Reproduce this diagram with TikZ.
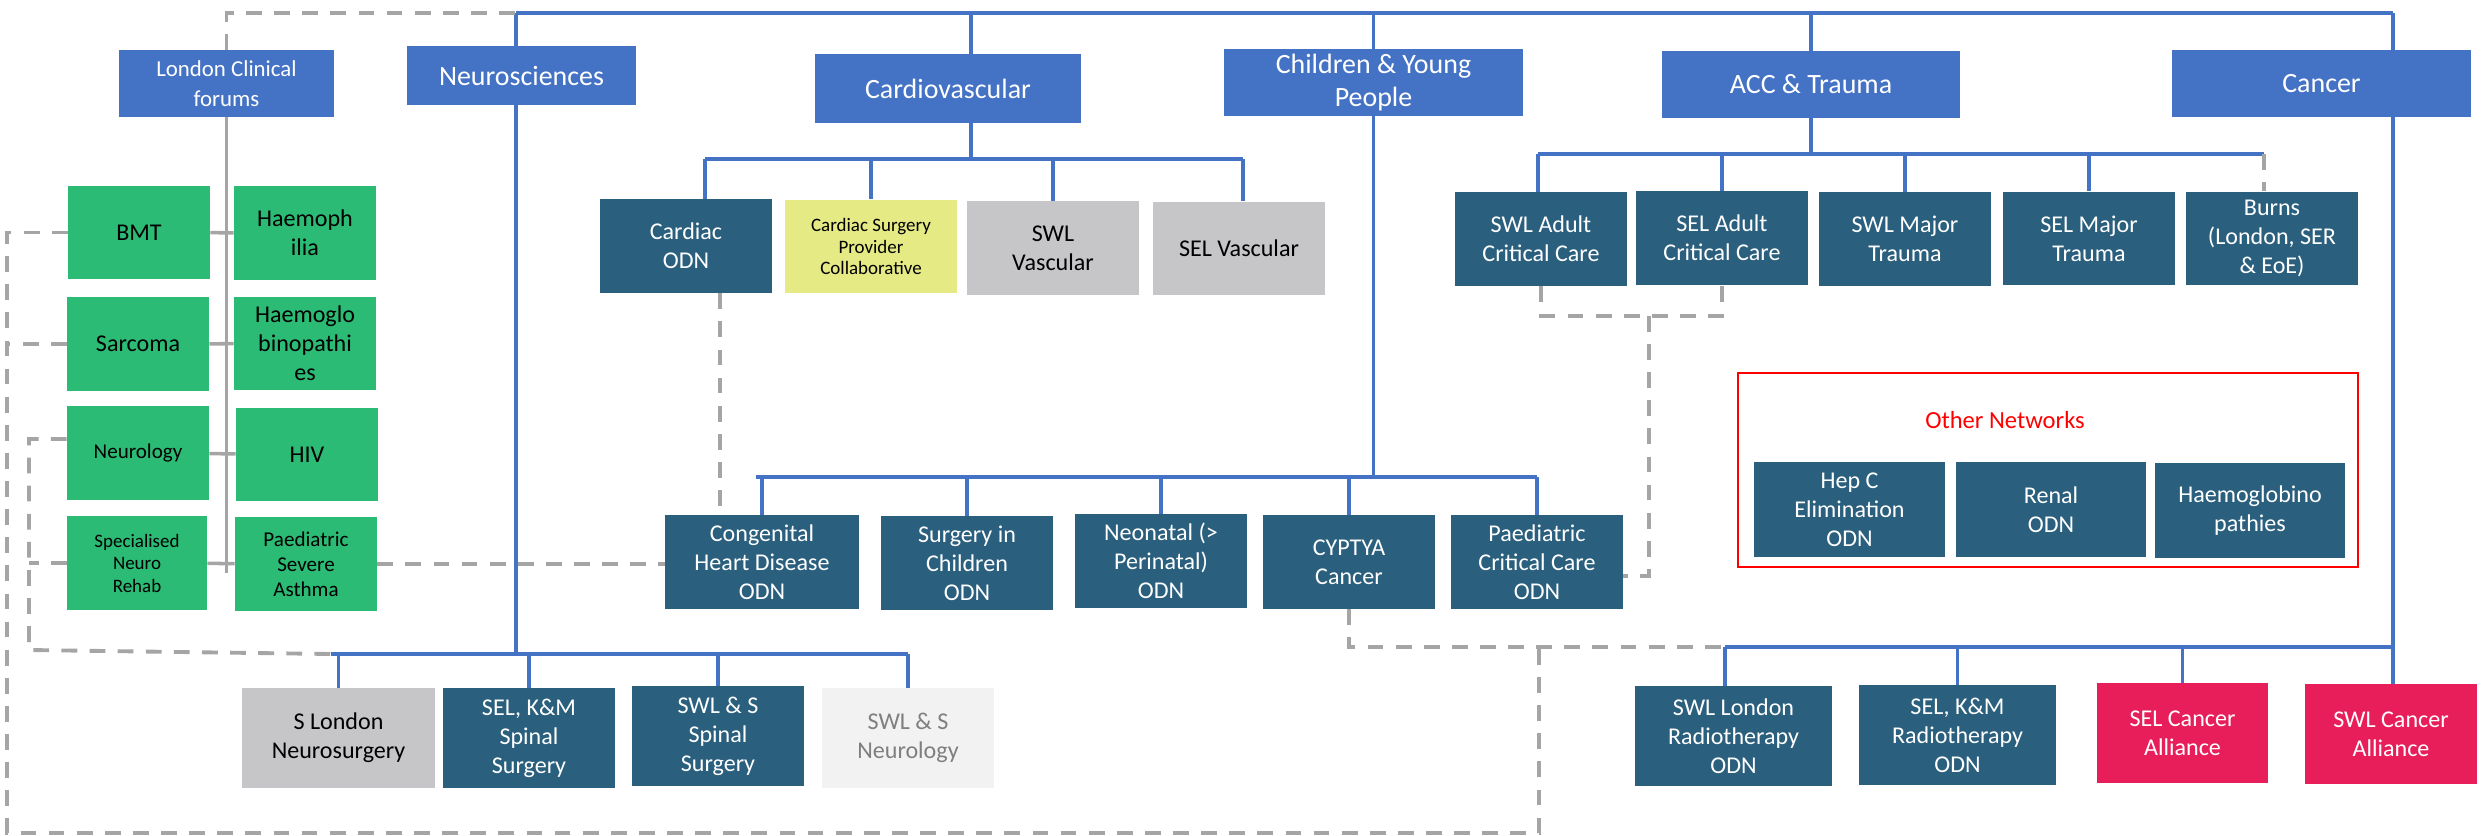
\documentclass[tikz,border=0pt]{standalone}
\usepackage{fontspec}
\setmainfont{Carlito}
\definecolor{hubblue}{HTML}{4472C4}
\definecolor{odnteal}{HTML}{2A5F7E}
\definecolor{forumgreen}{HTML}{2BBB74}
\definecolor{reviewgrey}{HTML}{C6C6C8}
\definecolor{palegrey}{HTML}{F2F2F2}
\definecolor{paletext}{HTML}{7F7F7F}
\definecolor{collabyellow}{HTML}{E5EA85}
\definecolor{alliancepink}{HTML}{E81E5A}
\definecolor{linkgrey}{HTML}{A5A5A5}
\definecolor{netred}{HTML}{FF0000}
\tikzset{
  card/.style={rectangle, inner sep=0pt, align=center, minimum width=3.44cm, minimum height=1.88cm, font=\fontsize{13.7}{16.5}\selectfont},
  hub/.style={card, fill=hubblue, text=white, minimum height=1.34cm, font=\fontsize{15.9}{18.8}\selectfont},
  odn/.style={card, fill=odnteal, text=white},
  forum/.style={card, fill=forumgreen, minimum width=2.84cm},
  review/.style={card, fill=reviewgrey},
  pale/.style={card, fill=palegrey, text=paletext},
  collab/.style={card, fill=collabyellow, font=\fontsize{10.8}{12.5}\selectfont},
  alliance/.style={card, fill=alliancepink, text=white},
  netframe/.style={rectangle, draw=netred, line width=1.1pt, inner sep=0pt, minimum width=12.4cm, minimum height=3.88cm},
  nettitle/.style={text=netred, font=\fontsize{14}{17}\selectfont},
  treeline/.style={draw=hubblue, line width=1.8pt},
  forumline/.style={draw=linkgrey, line width=2pt},
  linkline/.style={draw=linkgrey, line width=2.2pt, dash pattern=on 9pt off 7pt}
}

\begin{document}
\begin{tikzpicture}[x=0.02cm, y=-0.02cm]
  \useasboundingbox (0,0) rectangle (2481,835);

  \node[hub, minimum width=4.3cm, font=\fontsize{13}{17}\selectfont] (lcf) at (226.5,83.5) {London Clinical\\forums};
  \node[hub, minimum width=4.58cm, minimum height=1.18cm] (neuro) at (521.5,75.5) {Neurosciences};
  \node[hub, minimum width=5.32cm, minimum height=1.38cm] (cardio) at (948,88.5) {Cardiovascular};
  \node[hub, minimum width=5.98cm] (cyp) at (1373.5,82.5) {Children \& Young\\People};
  \node[hub, minimum width=5.96cm] (acc) at (1811,84.5) {ACC \& Trauma};
  \node[hub, minimum width=5.98cm] (cancer) at (2321.5,83.5) {Cancer};

  \node[forum] (bmt) at (139,232.5) {BMT};
  \node[forum] (haemophilia) at (305,233) {Haemoph\\ilia};
  \node[forum] (sarcoma) at (138,344) {Sarcoma};
  \node[forum] (haemoglo) at (305,343.5) {Haemoglo\\binopathi\\es};
  \node[forum, font=\fontsize{12}{14.5}\selectfont] (neurology) at (138,453) {Neurology};
  \node[forum] (hiv) at (307,454.5) {HIV};
  \node[forum, minimum width=2.8cm, font=\fontsize{10.8}{12.8}\selectfont] (rehab) at (137,563) {Specialised\\Neuro\\Rehab};
  \node[forum, font=\fontsize{12}{14.2}\selectfont] (asthma) at (306,564) {Paediatric\\Severe\\Asthma};

  \node[odn] (cardiacodn) at (686,246) {Cardiac\\ODN};
  \node[collab] (csp) at (871,246.5) {Cardiac Surgery\\Provider\\Collaborative};
  \node[review] (swlvasc) at (1053,248) {SWL\\Vascular};
  \node[review] (selvasc) at (1239,248.5) {SEL Vascular};

  \node[odn] (swlacc) at (1541,239) {SWL Adult\\Critical Care};
  \node[odn] (selacc) at (1722,238) {SEL Adult\\Critical Care};
  \node[odn] (swlmt) at (1905,239) {SWL Major\\Trauma};
  \node[odn] (selmt) at (2089,238.5) {SEL Major\\Trauma};
  \node[odn] (burns) at (2272,238.5) {Burns\\(London, SER\\\& EoE)};

  \node[odn, minimum width=3.88cm] (chd) at (762,562) {Congenital\\Heart Disease\\ODN};
  \node[odn] (sic) at (967,563) {Surgery in\\Children\\ODN};
  \node[odn] (neonatal) at (1161,561) {Neonatal (>\\Perinatal)\\ODN};
  \node[odn] (cyptya) at (1349,562) {CYPTYA\\Cancer};
  \node[odn] (paedcc) at (1537,562) {Paediatric\\Critical Care\\ODN};

  \node[review, minimum width=3.86cm, minimum height=2cm] (slondon) at (338.5,738) {S London\\Neurosurgery};
  \node[odn, minimum height=2cm] (selkm) at (529,738) {SEL, K\&M\\Spinal\\Surgery};
  \node[odn, minimum height=2cm] (swlsspinal) at (718,736) {SWL \& S\\Spinal\\Surgery};
  \node[pale, minimum height=2cm] (swlsneuro) at (908,738) {SWL \& S\\Neurology};

  \node[odn, minimum width=3.94cm, minimum height=2cm] (swlrt) at (1733.5,736) {SWL London\\Radiotherapy\\ODN};
  \node[odn, minimum width=3.94cm, minimum height=2cm] (selrt) at (1957.5,735) {SEL, K\&M\\Radiotherapy\\ODN};
  \node[alliance, minimum width=3.42cm, minimum height=2cm] (selca) at (2182.5,733) {SEL Cancer\\Alliance};
  \node[alliance, minimum height=2cm] (swlca) at (2391,734) {SWL Cancer\\Alliance};

  \node[netframe] (others) at (2048,470) {};
  \node[nettitle] (otitle) at (2005,420) {Other Networks};
  \node[odn, minimum width=3.82cm, minimum height=1.9cm] (hepc) at (1849.5,509.5) {Hep C\\Elimination\\ODN};
  \node[odn, minimum width=3.8cm, minimum height=1.9cm] (renal) at (2051,509.5) {Renal\\ODN};
  \node[odn, minimum width=3.8cm, minimum height=1.9cm] (hbp) at (2250,510.5) {Haemoglobino\\pathies};

  \coordinate (tl) at (516,13);
  \coordinate (tr) at (2393,13);
  \coordinate (cvtop) at (971,13);
  \draw[treeline] (tl) -- (tr);
  \draw[treeline] (tl) -- (tl |- neuro.north);
  \draw[treeline] (cvtop) -- (cvtop |- cardio.north);
  \draw[treeline] (cyp.north) -- (cyp.north |- tl);
  \draw[treeline] (acc.north) -- (acc.north |- tl);
  \draw[treeline] (tr) -- (tr |- cancer.north);

  \coordinate (nbusL) at (331,654);
  \coordinate (nbusR) at (908,654);
  \draw[treeline] (tl |- neuro.south) -- (tl |- nbusL);
  \draw[treeline] (nbusL) -- (nbusR);
  \foreach \n in {slondon, selkm, swlsspinal, swlsneuro}
    \draw[treeline] (\n.north) -- (\n.north |- nbusL);

  \coordinate (cvbusL) at (705,159);
  \coordinate (cvbusR) at (1243,159);
  \draw[treeline] (cvtop |- cardio.south) -- (cvtop |- cvbusL);
  \draw[treeline] (cvbusL) -- (cvbusR);
  \draw[treeline] (cvbusL) -- (cvbusL |- cardiacodn.north);
  \draw[treeline] (cvbusR) -- (cvbusR |- selvasc.north);
  \foreach \n in {csp, swlvasc}
    \draw[treeline] (\n.north) -- (\n.north |- cvbusL);

  \coordinate (abusL) at (1538,154);
  \coordinate (abusR) at (2264,154);
  \draw[treeline] (acc.south) -- (acc.south |- abusL);
  \draw[treeline] (abusL) -- (abusR);
  \draw[treeline] (abusL) -- (abusL |- swlacc.north);
  \foreach \n in {selacc, swlmt, selmt}
    \draw[treeline] (\n.north) -- (\n.north |- abusL);
  \draw[linkline] (abusR) -- (abusR |- burns.north);

  \coordinate (ybusL) at (756,477);
  \coordinate (ybusR) at (1537,477);
  \draw[treeline] (cyp.south) -- (cyp.south |- ybusL);
  \draw[treeline] (ybusL) -- (ybusR);
  \foreach \n in {chd, sic, neonatal, cyptya, paedcc}
    \draw[treeline] (\n.north) -- (\n.north |- ybusL);

  \coordinate (kbusL) at (1725,647);
  \coordinate (kbusR) at (2393,647);
  \draw[treeline] (tr |- cancer.south) -- (tr |- swlca.north);
  \draw[treeline] (kbusL) -- (kbusR);
  \draw[treeline] (kbusL) -- (kbusL |- swlrt.north);
  \foreach \n in {selrt, selca}
    \draw[treeline] (\n.north) -- (\n.north |- kbusL);

  \draw[linkline] (lcf.north) |- (tl);
  \draw[forumline] (lcf.south) -- ++(0,456);
  \draw[forumline] (bmt) -- (haemophilia);
  \draw[forumline] (sarcoma) -- (haemoglo);
  \draw[forumline] (neurology) -- (hiv);
  \draw[forumline] (rehab) -- (asthma);

  \coordinate (outerBL) at (7,833);
  \coordinate (cyjoin) at (1539,647);
  \draw[linkline] (bmt.west) -| (outerBL) -| (cyjoin);
  \draw[linkline] (sarcoma.west) -- (sarcoma.west -| outerBL);
  \coordinate (innerBL) at (29,650);
  \draw[linkline] ([yshift=0.28cm]neurology.west) -| (innerBL) -- (nbusL);
  \draw[linkline] (rehab.west) -- (rehab.west -| innerBL);
  \draw[linkline] (asthma.east) -- (asthma.east -| chd.west);
  \draw[linkline] ([xshift=0.68cm]cardiacodn.south) coordinate (cvlink) -- (cvlink |- chd.north);
  \draw[linkline] (cyptya.south) |- (kbusL);
  \coordinate (accjoin) at (1649,316);
  \draw[linkline] (swlacc.south) |- (accjoin) -| (selacc.south);
  \draw[linkline] (accjoin) |- ([yshift=-0.28cm]paedcc.east);
\end{tikzpicture}
\end{document}
